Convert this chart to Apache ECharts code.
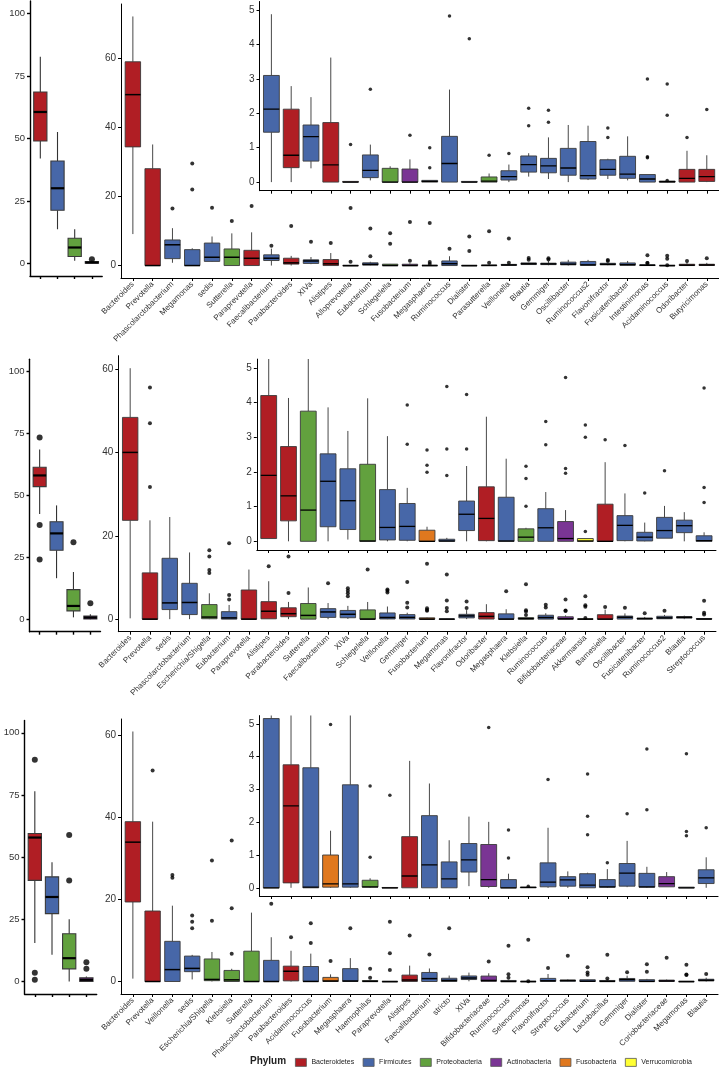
<!DOCTYPE html>
<html><head><meta charset="utf-8">
<script src="https://cdn.jsdelivr.net/npm/echarts@6/dist/echarts.min.js"></script>
<style>html,body{margin:0;padding:0;background:#fff}#c{width:719px;height:1079px}</style>
</head><body><div id="c"></div>
<script>
// ---------- DATA ----------
const phyla = ['Bacteroidetes','Firmicutes','Proteobacteria','Actinobacteria','Fusobacteria','Verrucomicrobia'];
const phylumCodes = ['B','F','P','A','U','V'];
const phylumColors = ['#B01E24','#4767A8','#62A13E','#7A3594','#E0781E','#FFFF33'];

const leftPhy = ['B','F','P','A'];
const yTicksLeft = [0,25,50,75,100];
const yTicksMain = [0,20,40,60];
const yTicksInset = [0,1,2,3,4,5];

// Row 1
const left1Stats = [[42,49,60.6,68.6,82.7],[13.7,21.3,30.1,41,52.6],[1.1,2.8,6.4,10.1,13.7],[0,0.1,0.4,0.8,1.2]];
const left1Out = [[],[],[],[1.7]];
const genera1 = ['Bacteroides','Prevotella','Phascolarctobacterium','Megamonas','sedis','Sutterella','Paraprevotella','Faecalibacterium','Parabacteroides','XIVa','Alistipes','Alloprevotella','Eubacterium','Schlegelella','Fusobacterium','Megasphaera','Ruminococcus','Dialister','Parasutterella','Veillonella','Blautia','Gemmiger','Oscillibacter','Ruminococcus2','Flavonifractor','Fusicatenibacter','Intestinimonas','Acidaminococcus','Odoribacter','Butyricimonas'];
const phy1 = ['B','B','F','F','F','P','B','F','B','F','B','B','F','P','A','F','F','F','P','F','F','F','F','F','F','F','F','F','B','B'];
const stats1 = [
 [9.1,34.3,49.4,58.9,72],[0,0,0,28,35],[0.8,2,6,7.4,10.8],[0,0,0,4.6,5],[1.1,1.2,2.4,6.5,8.4],
 [0,0,2.4,4.8,9.3],[0,0,2.1,4.4,9.6],[0,1.45,2.12,3.1,4.88],[0,0.42,0.78,2.12,2.79],[0.4,0.61,1.32,1.66,2.47],
 [0,0,0.5,1.73,3.62],[0,0,0,0.02,0.02],[0.05,0.13,0.34,0.79,1.09],[0,0,0,0.4,0.46],[0,0,0,0.38,0.66],
 [0,0,0.02,0.05,0.05],[0,0,0.54,1.33,2.69],[0,0,0,0.02,0.02],[0,0,0.03,0.15,0.25],[0,0.06,0.16,0.33,0.51],
 [0.16,0.29,0.51,0.76,0.84],[0.09,0.27,0.47,0.69,1.3],[0,0.2,0.41,0.98,1.66],[0.06,0.09,0.19,1.18,1.64],[0.09,0.2,0.37,0.65,0.68],
 [0.05,0.11,0.23,0.75,1.33],[0,0,0.09,0.22,0.22],[0,0,0.01,0.03,0.03],[0,0,0.11,0.37,0.91],[0,0.02,0.16,0.37,0.78]];
const out1 = [[],[],[16.5],[22,29.5],[16.7],[12.9],[17.2],[5.7],[11.4],[6.9],
 [6.5],[16.6,1.09],[10.7,2.7],[9.3,6.3],[12.6,1.36],[12.3,1.0,0.42],[4.83],[8.4,4.17],[9.9,0.78],[7.8,0.83],
 [2.15,1.64],[2.09,1.74],[],[],[1.57,1.3],[],[3.0,0.74,0.71],[2.85,1.94,0.05],[1.3],[2.11]];

// Row 2
const left2Stats = [[42.5,53.6,58.1,61.4,68.6],[16.6,27.9,34.7,39.4,46],[0.8,3.4,5.4,12,19.1],[0,0.1,0.7,1.3,2]];
const left2Out = [[73.4,38.1,24.2],[],[31.1],[6.5]];
const genera2 = ['Bacteroides','Prevotella','sedis','Phascolarctobacterium','Escherichia/Shigella','Eubacterium','Paraprevotella','Alistipes','Parabacteroides','Sutterella','Faecalibacterium','XIVa','Schlegelella','Veillonella','Gemmiger','Fusobacterium','Megamonas','Flavonifractor','Odoribacter','Megasphaera','Klebsiella','Ruminococcus','Bifidobacteriaceae','Akkermansia','Barnesiella','Oscillibacter','Fusicatenibacter','Ruminococcus2','Blautia','Streptococcus'];
const phy2 = ['B','B','F','F','P','F','B','B','B','P','F','F','P','F','F','U','F','F','B','F','P','F','A','V','B','F','F','F','F','F'];
const stats2 = [
 [0.2,23.7,40,48.4,60.2],[0,0,0,11.1,23.7],[0,2.3,3.9,14.6,24.5],[0,1.1,4.0,8.6,16],[0,0.1,0.5,3.5,6.2],
 [0,0,0.3,1.8,3.4],[0,0,0,7,11.9],[0.08,0.08,1.9,4.2,9.1],[0,0.59,1.31,2.73,4.13],[0,0,0.9,3.75,7.6],
 [0,0.42,1.73,2.52,3.86],[0.05,0.34,1.17,2.09,3.18],[0,0,0.01,2.22,4.12],[0,0.04,0.4,1.49,3.03],[0,0.03,0.43,1.09,1.54],
 [0,0,0,0.32,0.42],[0,0,0.01,0.06,0.1],[0,0.31,0.78,1.16,2.17],[0,0.02,0.66,1.57,3.59],[0,0,0.01,1.27,2.38],
 [0,0,0.12,0.36,0.39],[0,0,0.39,0.94,1.42],[0,0,0.08,0.57,0.9],[0,0,0.01,0.08,0.08],[0,0,0,1.07,2.28],
 [0,0.02,0.46,0.74,1.38],[0,0.01,0.12,0.26,0.54],[0.09,0.09,0.31,0.69,1.02],[0,0.25,0.45,0.61,0.84],[0,0,0.02,0.16,0.26]];
const out2 = [[],[55.6,47,31.7],[],[],[16.5,15,11.8,11.1],[18.2,5.8,4.7],[],[12.7],[15,6.3],[],
 [8.6],[7.4,6.8,6.2,5.5],[11.9],[7.1,6.8,6.4],[8.9,3.93,2.8],[13.3,2.63,2.19,1.99],[10.7,4.46,2.66,1.9],[4.23,2.66],[],[6.7],
 [8.4,2.16,1.81,1.01],[3.45,2.78],[4.72,2.1,1.96],[5.5,3.35,3.0,0.28],[2.93],[2.76],[1.39],[2.03],[],[4.42,1.55,1.12]];

// Row 3
const left3Stats = [[15.5,40.7,57.9,59.5,76.5],[10.8,27.3,34,42.1,48],[0,5.1,9.4,19.2,25.1],[0,0,0.7,1.5,2]];
const left3Out = [[89.2,3.5,0.7],[],[58.9,40.6],[7.8,5.2]];
const genera3 = ['Bacteroides','Prevotella','Veillonella','sedis','Escherichia/Shigella','Klebsiella','Sutterella','Phascolarctobacterium','Parabacteroides','Acidaminococcus','Fusobacterium','Megasphaera','Haemophilus','Paraprevotella','Alistipes','Faecalibacterium','stricto','XIVa','Bifidobacteriaceae','Ruminococcus','Selenomonas','Flavonifractor','Streptococcus','Eubacterium','Lactobacillus','Gemmiger','Dialister','Coriobacteriaceae','Megamonas','Blautia'];
const phy3 = ['B','B','F','F','P','P','P','F','B','F','U','F','P','B','B','F','F','F','A','F','F','F','F','F','F','F','F','A','F','F'];
const stats3 = [
 [0.7,19.4,34,39,61],[0,0,0,17.2,39],[0,0,2.9,9.8,18.5],[0.5,2.4,3.2,6.2,6.5],[0,0.2,0.5,5.5,7.2],
 [0,0,0.4,2.7,3.1],[0,0,0,7.4,16.8],[0,0,0,5.16,10.8],[0,0.15,2.5,3.75,7.5],[0,0,0.02,3.66,6.8],
 [0,0.02,0.12,1.0,1.74],[0,0.02,0.12,3.14,5.7],[0,0.02,0.03,0.23,0.29],[0,0,0,0.01,0.01],[0,0,0.36,1.56,3.87],
 [0,0,0.7,2.2,3.18],[0,0,0.27,0.79,1.45],[0.05,0.48,0.85,1.35,2.17],[0,0.04,0.25,1.32,2.01],[0,0,0,0.25,0.43],
 [0,0,0.01,0.02,0.04],[0,0.03,0.17,0.76,1.83],[0,0.05,0.24,0.34,0.5],[0,0,0.08,0.43,0.46],[0,0.02,0.03,0.25,0.57],
 [0.02,0.05,0.45,0.74,1.43],[0,0.02,0.03,0.44,0.64],[0.03,0.03,0.13,0.34,0.48],[0,0,0,0.02,0.02],[0,0.13,0.3,0.55,0.93]];
const out3 = [[],[51.5],[26,25.3],[16.1,14.6,13],[29.5,14.8],[34.4,17.9,6.8],[],[19],[10.8],[14.2,9.4],
 [4.98],[13],[3.1,0.93],[14.6,6.9,2.82],[11.2],[6.6],[13],[],[4.89],[8.7,1.76,0.91],
 [10.2,0.05],[3.3],[6.3],[3.47,2.18,1.62],[6.5,0.76],[2.26],[4.23,2.38],[5.8],[4.09,1.72,1.59],[1.83]];

// ---------- LAYOUT ----------
const FONT = '"Liberation Sans", Arial, Helvetica, sans-serif';
const rows = [
 {left:{x:30,top:1,w:72.2,h:275}, main:{x:121,top:4,sp:19.79,h:274,min:-3.6,max:75.6}, inset:{top:1.5,h:189.2},
  ls:left1Stats, lo:left1Out, g:genera1, p:phy1, s:stats1, o:out1},
 {left:{x:29.5,top:359.3,w:71,h:272.4}, main:{x:118.3,top:355.7,sp:19.79,h:276,min:-3.01,max:63.2}, inset:{top:359.1,h:190.9},
  ls:left2Stats, lo:left2Out, g:genera2, p:phy2, s:stats2, o:out2},
 {left:{x:24.5,top:720.4,w:72.2,h:273.6}, main:{x:121,top:719,sp:19.77,h:275,min:-3.05,max:64.05}, inset:{top:715.6,h:180.4},
  ls:left3Stats, lo:left3Out, g:genera3, p:phy3, s:stats3, o:out3}
];
const INSET_START = 7;

const grids=[], xAxes=[], yAxes=[], series=[];

function boxItem(frac, medW, lw) {
  return function (params, api) {
    const x = api.value(0);
    const pLo = api.coord([x, api.value(1)]);
    const pQ1 = api.coord([x, api.value(2)]);
    const pMd = api.coord([x, api.value(3)]);
    const pQ3 = api.coord([x, api.value(4)]);
    const pHi = api.coord([x, api.value(5)]);
    const bw = api.size([1, 0])[0] * frac;
    const cx = pMd[0];
    const fill = api.visual('color');
    return {type:'group', children:[
      {type:'line', shape:{x1:cx,y1:pQ1[1],x2:cx,y2:pLo[1]}, style:{stroke:'#333',lineWidth:lw}},
      {type:'line', shape:{x1:cx,y1:pQ3[1],x2:cx,y2:pHi[1]}, style:{stroke:'#333',lineWidth:lw}},
      {type:'rect', shape:{x:cx-bw/2,y:pQ3[1],width:bw,height:Math.max(pQ1[1]-pQ3[1],0.5)}, style:{fill:fill,stroke:'#3a3a3a',lineWidth:lw}},
      {type:'line', shape:{x1:cx-bw/2,y1:pMd[1],x2:cx+bw/2,y2:pMd[1]}, style:{stroke:'#000',lineWidth:medW}}
    ]};
  };
}

function addPanel(c) {
  const gi = grids.length;
  grids.push({left:c.left, top:c.top, width:c.width, height:c.height, containLabel:false, outerBoundsMode:'none',
    z:c.z, show:!!c.bg, backgroundColor:c.bg || 'transparent', borderWidth:0});
  const idx = [];
  for (let i = c.first; i < c.stats.length; i++) idx.push(i);
  xAxes.push({gridIndex:gi, type:'value', min:c.first-0.6, max:c.stats.length-0.4, z:c.z+1,
    axisLine:{show:true, onZero:false, lineStyle:{color:'#000', width:c.axisW}},
    axisTick:{show:true, length:3, customValues:idx, lineStyle:{color:'#000', width:c.axisW}},
    axisLabel: c.labels ? {show:true, customValues:idx, rotate:45, margin:5, fontSize:8, color:'#333', fontFamily:FONT,
      formatter: v => c.labels[Math.round(v)]} : {show:false},
    splitLine:{show:false}});
  yAxes.push({gridIndex:gi, type:'value', min:c.ymin, max:c.ymax, z:c.z+1,
    axisLine:{show:true, onZero:false, lineStyle:{color:'#000', width:c.axisW}},
    axisTick:{show:true, length:3, customValues:c.yTicks, lineStyle:{color:'#000', width:c.axisW}},
    axisLabel:{show:true, customValues:c.yTicks, margin:5, fontSize:c.fontY, color:'#333', fontFamily:FONT},
    splitLine:{show:false}});
  phylumCodes.forEach((code, pi) => {
    const data = idx.filter(i => c.phy[i] === code).map(i => [i].concat(c.stats[i]));
    if (!data.length) return;
    series.push({type:'custom', name:phyla[pi], xAxisIndex:gi, yAxisIndex:gi, data:data,
      encode:{x:0, y:[1,2,3,4,5]}, renderItem:boxItem(c.frac, c.medW, c.lw), itemStyle:{color:phylumColors[pi]},
      clip:!!c.clip, z:c.z+2, silent:true, animation:false});
  });
  const pts = [];
  idx.forEach(i => c.outs[i].forEach(v => pts.push([i, v])));
  series.push({type:'scatter', name:'outliers', xAxisIndex:gi, yAxisIndex:gi, data:pts, symbol:'circle',
    symbolSize:c.dot, itemStyle:{color:'#000'}, clip:true, z:c.z+3, silent:true, animation:false});
}

rows.forEach(r => {
  addPanel({left:r.left.x, top:r.left.top, width:r.left.w, height:r.left.h, ymin:-5, ymax:105, yTicks:yTicksLeft,
    labels:null, stats:r.ls, outs:r.lo, phy:leftPhy, first:0, z:0, bg:null, frac:0.77, medW:2.2, lw:1.1, dot:6, axisW:1.4, fontY:9.5});
  addPanel({left:r.main.x, top:r.main.top, width:30.2*r.main.sp, height:r.main.h, ymin:r.main.min, ymax:r.main.max, yTicks:yTicksMain,
    labels:r.g, stats:r.s, outs:r.o, phy:r.p, first:0, z:0, bg:null, frac:0.78, medW:1.5, lw:0.9, dot:4, axisW:1, fontY:10});
  addPanel({left:r.main.x + INSET_START*r.main.sp, top:r.inset.top, width:23.2*r.main.sp, height:r.inset.h, ymin:-0.25, ymax:5.25,
    yTicks:yTicksInset, labels:null, stats:r.s, outs:r.o, phy:r.p, first:INSET_START, z:10, bg:'#ffffff',
    frac:0.8, medW:1.3, lw:0.9, dot:3.5, axisW:1, fontY:10, clip:true});
});

const chart = echarts.init(document.getElementById('c'), null, {renderer:'canvas'});
chart.setOption({
  backgroundColor:'#ffffff',
  animation:false,
  title:{text:'Phylum', left:250, top:1056, padding:0, textStyle:{fontSize:10, fontWeight:'bold', color:'#222', fontFamily:FONT}},
  legend:{data:phyla, left:295, top:1058, padding:0, width:424, itemWidth:11, itemHeight:8, itemGap:8.5, icon:'rect', selectedMode:false,
    textStyle:{fontSize:7, color:'#222', fontFamily:FONT}, itemStyle:{borderColor:'#555', borderWidth:0.8}},
  grid:grids, xAxis:xAxes, yAxis:yAxes, series:series
});
</script>
</body></html>
